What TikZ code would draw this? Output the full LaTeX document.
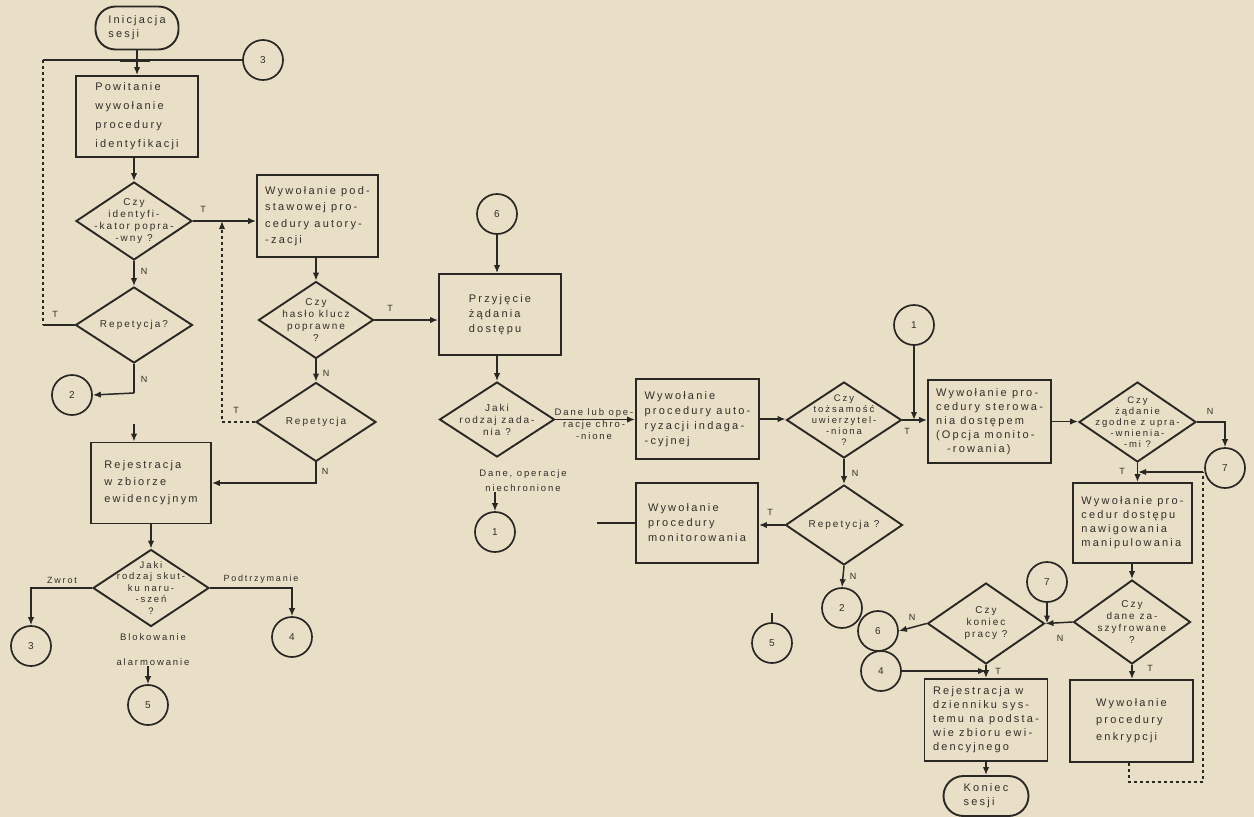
\documentclass[tikz,border=0pt]{standalone}
\usepackage{fontspec}
\setmainfont{Liberation Sans}
\newfontfamily\lsfont[LetterSpace=20]{Liberation Sans}
\usetikzlibrary{shapes.geometric,arrows.meta}
\definecolor{paper}{RGB}{232,223,198}
\definecolor{ink}{RGB}{42,40,36}
\definecolor{txt}{RGB}{50,47,42}
\begin{document}
\begin{tikzpicture}[x=1pt,y=-1pt,
  >={Latex[length=8pt,width=6.5pt]},
  box/.style={draw=ink,line width=1.9pt,rectangle,inner sep=2pt,text=txt,align=left,font=\lsfont\fontsize{11}{15}\selectfont},
  dia/.style={draw=ink,line width=1.9pt,diamond,inner sep=0pt},
  dtext/.style={text=txt,align=center,inner sep=0pt,font=\lsfont\fontsize{10}{12}\selectfont},
  conn/.style={draw=ink,line width=1.7pt,circle,minimum size=40,inner sep=0pt,text=txt,font=\lsfont\fontsize{10}{12}\selectfont},
  term/.style={draw=ink,line width=1.9pt,rectangle,rounded corners=20pt,inner sep=2pt,text=txt,align=left,font=\lsfont\fontsize{11}{14}\selectfont},
  line/.style={draw=ink,line width=1.5pt},
  lab/.style={text=txt,inner sep=0pt,font=\lsfont\fontsize{9}{11}\selectfont},
  ftxt/.style={text=txt,inner sep=0pt,align=center,font=\lsfont\fontsize{9.5}{12}\selectfont}
]
\fill[paper] (0,0) rectangle (1254,817);
\useasboundingbox (0,0) rectangle (1254,817);

% ---------------- left column ----------------
\node[term,minimum width=83,minimum height=43] (sT) at (137,28) {Inicjacja\\sesji};
\node[conn] (c3a) at (263,60) {3};
\coordinate (lTop) at (43,60);
\coordinate (lBot) at (43,325);
\node[box,minimum width=122,minimum height=81,font=\lsfont\fontsize{11}{19}\selectfont] (bPow) at (137,116.5) {Powitanie\\wywołanie\\procedury\\identyfikacji};
\node[dia,minimum width=116,minimum height=78] (d1) at (134,221) {};
\node[dtext] (d1t) at (d1) {Czy\\identyfi-\\-kator popra-\\-wny ?};
\node[dia,minimum width=117,minimum height=76] (rep1) at (134,325) {};
\node[dtext] (rep1t) at (rep1) {Repetycja?};
\node[conn] (c2L) at (72,395) {2};
\coordinate (jL) at (134,393);
\coordinate (stub) at (134,424);

\node[box,minimum width=121,minimum height=82,font=\lsfont\fontsize{11}{16.5}\selectfont] (b2) at (317.5,216) {Wywołanie pod-\\stawowej pro-\\cedury autory-\\-zacji};
\node[dia,minimum width=115,minimum height=77] (d2) at (316,320) {};
\node[dtext] (d2t) at (d2) {Czy\\hasło klucz\\poprawne\\?};
\node[dia,minimum width=120,minimum height=79] (rep2) at (316,422) {};
\node[dtext] (rep2t) at (rep2) {Repetycja};
\coordinate (jT) at (222,221);

\node[box,minimum width=120,minimum height=81,font=\lsfont\fontsize{11}{17}\selectfont] (bRej) at (151,483) {Rejestracja\\w zbiorze\\ewidencyjnym};
\node[dia,minimum width=116,minimum height=77] (dNar) at (151,588) {};
\node[dtext,font=\lsfont\fontsize{9.5}{11.5}\selectfont] (dNart) at (dNar) {Jaki\\rodzaj skut-\\ku naru-\\-szeń\\?};
\node[conn] (c3b) at (31,646) {3};
\node[conn] (c4L) at (292,637) {4};
\node[ftxt,font=\lsfont\fontsize{9.5}{25}\selectfont] (tBlok) at (153,650) {Blokowanie\\alarmowanie};
\node[conn] (c5L) at (148,705) {5};
\node[lab,anchor=south] (tZw) at (62,584) {Zwrot};
\node[lab,anchor=south] (tPod) at (261,584) {Podtrzymanie};

% ---------------- middle ----------------
\node[conn] (c6a) at (497,214) {6};
\node[box,minimum width=122,minimum height=81,font=\lsfont\fontsize{11}{15}\selectfont] (bPrz) at (500,314.5) {Przyjęcie\\żądania\\dostępu};
\node[dia,minimum width=115,minimum height=75] (dJak) at (497,419.5) {};
\node[dtext] (dJakt) at (dJak) {Jaki\\rodzaj zada-\\nia ?};
\node[ftxt] (tChr) at (594,424) {Dane lub ope-\\racje chro-\\-nione};
\node[ftxt,font=\lsfont\fontsize{9.5}{15}\selectfont] (tNie) at (523,481) {Dane, operacje\\niechronione};
\node[conn] (c1m) at (495,532) {1};

\node[box,minimum width=123,minimum height=80] (bAut) at (697.5,419) {Wywołanie\\procedury auto-\\ryzacji indaga-\\-cyjnej};
\node[box,minimum width=122,minimum height=80] (bMon) at (697,523) {Wywołanie\\procedury\\monitorowania};
\coordinate (mFree) at (597,523);

\node[dia,minimum width=115,minimum height=76] (dToz) at (844,420) {};
\node[dtext,font=\lsfont\fontsize{9.5}{11}\selectfont] (dTozt) at (dToz) {Czy\\tożsamość\\uwierzytel-\\-niona\\?};
\node[dia,minimum width=117,minimum height=80] (rep3) at (844,525) {};
\node[dtext] (rep3t) at (rep3) {Repetycja ?};
\node[conn] (c2R) at (842,608) {2};
\node[conn] (c5R) at (772,643) {5};

% ---------------- right ----------------
\node[conn] (c1R) at (914,325) {1};
\node[box,minimum width=123,minimum height=83,font=\lsfont\fontsize{11}{14}\selectfont] (bSter) at (989.5,421.5) {Wywołanie pro-\\cedury sterowa-\\nia dostępem\\(Opcja monito-\\\quad -rowania)};
\node[dia,minimum width=117,minimum height=80] (dZgo) at (1137.5,422) {};
\node[dtext,font=\lsfont\fontsize{9.5}{11}\selectfont] (dZgot) at (dZgo) {Czy\\żądanie\\zgodne z upra-\\-wnienia-\\-mi ?};
\node[conn] (c7R) at (1225,468) {7};
\node[box,minimum width=119,minimum height=80,font=\lsfont\fontsize{11}{14}\selectfont] (bDos) at (1132.5,523) {Wywołanie pro-\\cedur dostępu\\nawigowania\\manipulowania};
\node[dia,minimum width=117,minimum height=84] (dSzy) at (1132,622) {};
\node[dtext] (dSzyt) at (dSzy) {Czy\\dane za-\\szyfrowane\\?};
\node[box,minimum width=123,minimum height=82,font=\lsfont\fontsize{11}{17}\selectfont] (bEnk) at (1131.5,721) {Wywołanie\\procedury\\enkrypcji};
\node[dia,minimum width=117,minimum height=81] (dKon) at (986,623.5) {};
\node[dtext] (dKont) at (dKon) {Czy\\koniec\\pracy ?};
\node[conn] (c7B) at (1047,582) {7};
\node[conn] (c6B) at (878,631) {6};
\node[conn] (c4R) at (881,671) {4};
\node[box,minimum width=123,minimum height=82,font=\lsfont\fontsize{11}{14}\selectfont] (bRejD) at (986,720) {Rejestracja w\\dzienniku sys-\\temu na podsta-\\wie zbioru ewi-\\dencyjnego};
\node[term,minimum width=85,minimum height=40] (tEnd) at (986,796) {Koniec\\sesji};
\coordinate (lp1) at (1129,782);
\coordinate (lp2) at (1203,782);
\coordinate (lp3) at (1203,472);
\coordinate (lp4) at (1138,472);

% ---------------- connectors ----------------
\draw[line,->] (sT.south) -- (sT.south |- bPow.north);
\draw[line] (c3a.west) -- (lTop);
\draw[line,line width=3pt] (120,60) -- (150,60);
\draw[line,dashed] (lTop) -- (lBot);
\draw[line] (lBot) -- (rep1.west);
\node[lab] at (55,314) {T};
\draw[line,->] (bPow.south -| d1) -- (d1.north);
\draw[line,->] (d1.east) -- (d1.east -| b2.west);
\node[lab] at (203,209) {T};
\draw[line,->] (d1.south) -- (rep1.north);
\node[lab] at (144,271) {N};
\draw[line] (rep1.south) -- (jL);
\draw[line,->] (jL) -- (c2L.east);
\node[lab] at (144,379) {N};
\draw[line,->] (stub) -- (stub |- bRej.north);

\draw[line,->] (b2.south -| d2) -- (d2.north);
\draw[line,->] (d2.east) -- (d2.east -| bPrz.west);
\node[lab] at (390,308) {T};
\draw[line,->] (d2.south) -- (rep2.north);
\node[lab] at (326,373) {N};
\draw[line,dashed,->] (rep2.west) -| (jT);
\node[lab] at (236,410) {T};
\draw[line,->] (rep2.south) |- (bRej.east);
\node[lab] at (325,471) {N};

\draw[line,->] (bRej.south) -- (dNar.north);
\draw[line,->] (dNar.west) -| (c3b.north);
\draw[line,->] (dNar.east) -| (c4L.north);
\draw[line,->] (c5L.north |- tBlok.south) -- (c5L.north);

\draw[line,->] (c6a.south) -- (c6a.south |- bPrz.north);
\draw[line,->] (bPrz.south -| dJak) -- (dJak.north);
\draw[line,->] (dJak.east) -- (dJak.east -| bAut.west);
\draw[line,->] (c1m.north |- tNie.south) -- (c1m.north);

\draw[line,->] (bAut.east) -- (bAut.east -| dToz.west);
\draw[line,->] (dToz.east) -- (dToz.east -| bSter.west);
\node[lab] at (907,431) {T};
\draw[line,->] (c1R.south) -- (c1R.south |- dToz.east);
\draw[line,->] (dToz.south) -- (rep3.north);
\node[lab] at (855,473) {N};
\draw[line,->] (rep3.west) -- (rep3.west -| bMon.east);
\node[lab] at (770,512) {T};
\draw[line] (bMon.west) -- (mFree);
\draw[line,->] (rep3.south) -- (c2R.north);
\node[lab] at (853,576) {N};
\draw[line] (c5R.north) -- ++(0,-9);

\draw[line,->] (bSter.east) -- (bSter.east -| dZgo.west);
\draw[line,->] (dZgo.east) -| (c7R.north);
\node[lab] at (1210,411) {N};
\draw[line,->] (dZgo.south) -- (dZgo.south |- bDos.north);
\node[lab] at (1122,471) {T};
\draw[line,->] (bDos.south -| dSzy) -- (dSzy.north);
\draw[line,->] (dSzy.south) -- (dSzy.south |- bEnk.north);
\node[lab] at (1150,668) {T};
\draw[line,->] (dSzy.west) -- (dKon.east);
\draw[line,->] (c7B.south) -- (c7B.south |- dKon.east);
\node[lab] at (1060,638) {N};
\draw[line,->] (dKon.west) -- (c6B.east);
\node[lab] at (912,617) {N};
\draw[line,->] (dKon.south) -- (dKon.south |- bRejD.north);
\node[lab] at (998,671) {T};
\draw[line,->] (c4R.east) -- (c4R.east -| dKon.south);
\draw[line,->] (bRejD.south) -- (tEnd.north);
\draw[line,dashed] (bEnk.south -| lp1) -- (lp1) -- (lp2) -- (lp3);
\draw[line,->] (lp3) -- (lp4);
\end{tikzpicture}
\end{document}
